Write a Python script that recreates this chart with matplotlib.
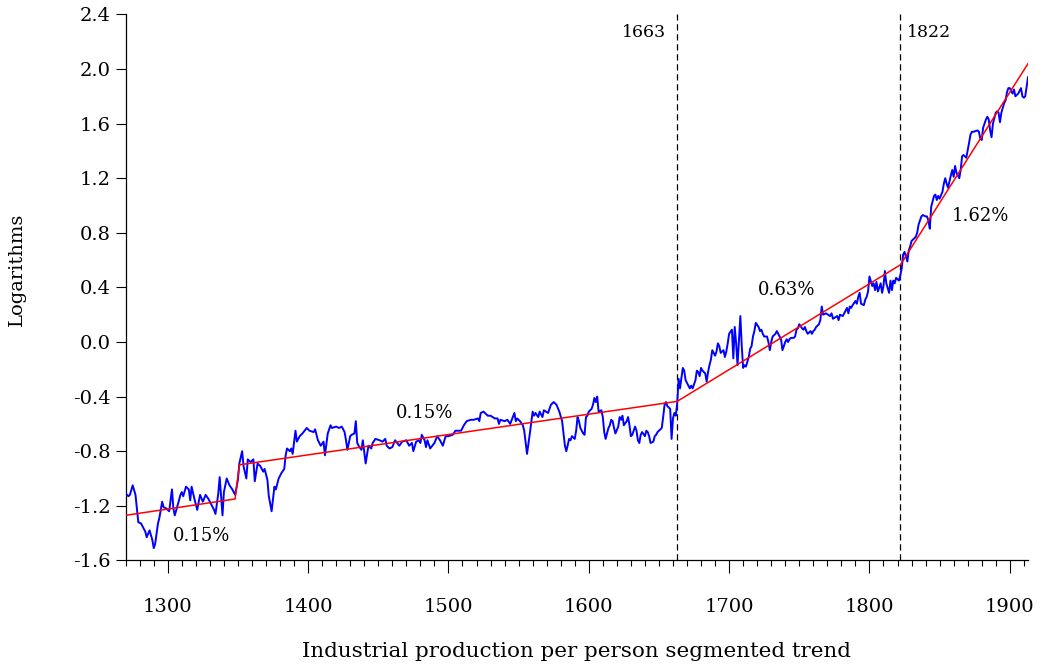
import matplotlib
matplotlib.use("Agg")
import matplotlib.pyplot as plt
import numpy as np

# ---------------------------------------------------------------------------
# Log industrial production per person, read year by year (four eras)
# ---------------------------------------------------------------------------
years_medieval = [
    1270, 1272, 1273, 1275, 1277, 1279, 1281, 1284, 1285, 1287,
    1289, 1290, 1291, 1293, 1294, 1296, 1297, 1299, 1301, 1303,
    1304, 1305, 1308, 1309, 1310, 1311, 1313, 1315, 1316, 1317,
    1319, 1321, 1323, 1325, 1327, 1329, 1331, 1333, 1334, 1336,
    1337, 1339, 1340, 1342, 1344, 1346, 1348, 1350, 1351, 1353,
    1354, 1356, 1357, 1359, 1361, 1362, 1364, 1366, 1368, 1369,
    1371, 1372, 1374, 1376, 1377, 1379, 1381, 1383, 1384, 1385,
    1387, 1388, 1389, 1391, 1392, 1394, 1396, 1399, 1401, 1404,
    1405, 1407, 1409, 1411, 1412, 1414, 1416, 1417, 1420, 1422,
    1424, 1426, 1427, 1428, 1430, 1431, 1433, 1434, 1435, 1436,
    1438, 1439, 1441, 1443, 1445, 1446, 1448, 1451, 1453, 1455,
    1456, 1458, 1460, 1462, 1465, 1467, 1470, 1472, 1474, 1475,
    1477, 1479,
]
values_medieval = [
    -1.11, -1.13, -1.12, -1.05, -1.12, -1.32, -1.33, -1.39, -1.43, -1.38,
    -1.45, -1.51, -1.48, -1.33, -1.29, -1.17, -1.21, -1.22, -1.24, -1.08,
    -1.22, -1.27, -1.16, -1.12, -1.10, -1.13, -1.06, -1.08, -1.16, -1.06,
    -1.15, -1.23, -1.12, -1.17, -1.12, -1.15, -1.19, -1.23, -1.26, -1.11,
    -0.99, -1.27, -1.10, -1.00, -1.05, -1.08, -1.12, -1.01, -0.89, -0.80,
    -0.91, -1.00, -0.86, -0.88, -0.86, -1.02, -0.89, -0.91, -0.95, -0.93,
    -1.01, -1.13, -1.24, -1.06, -1.08, -1.00, -0.96, -0.93, -0.83, -0.78,
    -0.80, -0.78, -0.82, -0.65, -0.73, -0.69, -0.67, -0.63, -0.65, -0.66,
    -0.64, -0.72, -0.76, -0.73, -0.83, -0.67, -0.61, -0.63, -0.62, -0.63,
    -0.62, -0.66, -0.72, -0.79, -0.69, -0.68, -0.67, -0.58, -0.74, -0.76,
    -0.79, -0.72, -0.89, -0.76, -0.78, -0.74, -0.71, -0.72, -0.73, -0.71,
    -0.76, -0.78, -0.77, -0.72, -0.76, -0.73, -0.72, -0.76, -0.74, -0.80,
    -0.73, -0.72,
]

years_early_modern = [
    1480, 1481, 1483, 1484, 1485, 1487, 1490, 1492, 1494, 1496,
    1498, 1500, 1503, 1505, 1509, 1511, 1513, 1516, 1518, 1521,
    1522, 1523, 1525, 1528, 1530, 1533, 1535, 1536, 1537, 1540,
    1542, 1544, 1547, 1548, 1549, 1551, 1553, 1554, 1556, 1558,
    1560, 1561, 1562, 1564, 1565, 1567, 1568, 1571, 1573, 1575,
    1577, 1579, 1581, 1583, 1584, 1586, 1587, 1588, 1590, 1591,
    1592, 1593, 1594, 1596, 1597, 1598, 1599, 1600, 1602, 1603,
    1604, 1605, 1606, 1607, 1609, 1610, 1611, 1612, 1614, 1615,
    1616, 1617, 1618, 1619, 1621, 1622, 1623, 1624, 1625, 1627,
    1628, 1629, 1630, 1631, 1633, 1634, 1635, 1636, 1637, 1638,
    1640, 1641, 1642, 1643, 1644, 1646, 1647, 1648, 1649, 1652,
    1653, 1654, 1655, 1656, 1658, 1659, 1660, 1661, 1662, 1663,
]
values_early_modern = [
    -0.74, -0.68, -0.72, -0.77, -0.72, -0.78, -0.74, -0.69, -0.72, -0.76,
    -0.69, -0.69, -0.68, -0.65, -0.65, -0.61, -0.58, -0.57, -0.57, -0.56,
    -0.58, -0.52, -0.51, -0.54, -0.54, -0.56, -0.56, -0.60, -0.57, -0.58,
    -0.57, -0.60, -0.52, -0.58, -0.56, -0.58, -0.61, -0.65, -0.82, -0.67,
    -0.51, -0.54, -0.52, -0.55, -0.51, -0.55, -0.50, -0.52, -0.46, -0.44,
    -0.46, -0.51, -0.58, -0.76, -0.80, -0.71, -0.72, -0.69, -0.71, -0.65,
    -0.55, -0.58, -0.63, -0.67, -0.68, -0.55, -0.54, -0.51, -0.49, -0.46,
    -0.41, -0.44, -0.40, -0.51, -0.50, -0.55, -0.66, -0.71, -0.63, -0.61,
    -0.57, -0.58, -0.63, -0.67, -0.62, -0.55, -0.57, -0.54, -0.61, -0.58,
    -0.55, -0.61, -0.69, -0.68, -0.62, -0.65, -0.72, -0.74, -0.68, -0.66,
    -0.69, -0.65, -0.66, -0.69, -0.74, -0.73, -0.69, -0.68, -0.66, -0.63,
    -0.55, -0.46, -0.44, -0.47, -0.49, -0.71, -0.56, -0.52, -0.54, -0.45,
]

years_pre_industrial = [
    1664, 1665, 1667, 1668, 1669, 1671, 1672, 1673, 1674, 1676,
    1677, 1678, 1679, 1680, 1681, 1683, 1684, 1685, 1686, 1687,
    1688, 1690, 1691, 1692, 1693, 1694, 1696, 1697, 1698, 1699,
    1700, 1702, 1703, 1704, 1705, 1706, 1708, 1709, 1710, 1711,
    1712, 1714, 1715, 1716, 1717, 1718, 1719, 1721, 1722, 1723,
    1724, 1725, 1727, 1728, 1729, 1730, 1731, 1733, 1734, 1735,
    1736, 1737, 1738, 1740, 1741, 1742, 1743, 1744, 1746, 1747,
    1748, 1749, 1750, 1752, 1753, 1754, 1755, 1756, 1758, 1759,
    1760, 1761, 1762, 1764, 1765,
]
values_pre_industrial = [
    -0.27, -0.34, -0.19, -0.21, -0.28, -0.32, -0.34, -0.32, -0.34, -0.28,
    -0.21, -0.22, -0.25, -0.19, -0.21, -0.23, -0.29, -0.22, -0.17, -0.13,
    -0.06, -0.10, -0.07, -0.01, -0.03, -0.08, -0.06, -0.11, -0.07, -0.01,
    0.06, 0.09, -0.12, 0.11, -0.01, -0.17, 0.19, -0.03, -0.19, -0.17,
    -0.18, -0.11, -0.05, -0.03, 0.04, 0.08, 0.14, 0.11, 0.08, 0.09,
    0.06, 0.04, 0.04, 0.00, -0.06, 0.00, 0.04, 0.06, 0.08, 0.06,
    0.04, 0.02, -0.06, 0.00, 0.02, 0.00, 0.02, 0.03, 0.03, 0.04,
    0.09, 0.10, 0.13, 0.10, 0.09, 0.11, 0.08, 0.06, 0.08, 0.06,
    0.08, 0.09, 0.11, 0.13, 0.16,
]

years_industrial = [
    1766, 1767, 1769, 1772, 1773, 1774, 1777, 1778, 1779, 1781,
    1784, 1785, 1786, 1787, 1788, 1790, 1791, 1792, 1793, 1794,
    1796, 1797, 1798, 1799, 1800, 1802, 1803, 1804, 1805, 1806,
    1808, 1809, 1810, 1811, 1812, 1814, 1815, 1816, 1817, 1818,
    1819, 1821, 1822, 1823, 1824, 1825, 1827, 1828, 1829, 1830,
    1831, 1833, 1834, 1835, 1836, 1837, 1838, 1840, 1841, 1842,
    1843, 1844, 1846, 1847, 1848, 1849, 1850, 1852, 1853, 1854,
    1855, 1856, 1858, 1859, 1860, 1861, 1862, 1864, 1865, 1866,
    1867, 1868, 1869, 1871, 1872, 1873, 1874, 1877, 1878, 1879,
    1880, 1881, 1883, 1884, 1885, 1886, 1887, 1888, 1890, 1891,
    1892, 1893, 1894, 1896, 1897, 1898, 1899, 1900, 1902, 1903,
    1904, 1905, 1906, 1908, 1909, 1910, 1911, 1912, 1913,
]
values_industrial = [
    0.26, 0.20, 0.21, 0.19, 0.21, 0.17, 0.19, 0.16, 0.20, 0.19,
    0.25, 0.21, 0.26, 0.25, 0.27, 0.30, 0.28, 0.33, 0.36, 0.28,
    0.27, 0.31, 0.33, 0.37, 0.48, 0.41, 0.43, 0.38, 0.44, 0.37,
    0.43, 0.36, 0.41, 0.52, 0.43, 0.36, 0.45, 0.38, 0.45, 0.43,
    0.47, 0.45, 0.49, 0.54, 0.64, 0.66, 0.59, 0.67, 0.70, 0.74,
    0.75, 0.77, 0.80, 0.86, 0.89, 0.92, 0.93, 0.92, 0.92, 0.89,
    0.83, 0.99, 1.07, 1.08, 1.04, 1.07, 1.05, 1.10, 1.16, 1.20,
    1.16, 1.13, 1.22, 1.26, 1.21, 1.29, 1.24, 1.20, 1.26, 1.36,
    1.37, 1.36, 1.35, 1.46, 1.52, 1.54, 1.54, 1.55, 1.54, 1.49,
    1.48, 1.57, 1.63, 1.65, 1.63, 1.55, 1.50, 1.60, 1.68, 1.69,
    1.68, 1.61, 1.68, 1.75, 1.77, 1.83, 1.86, 1.86, 1.82, 1.85,
    1.80, 1.81, 1.82, 1.86, 1.80, 1.79, 1.80, 1.87, 1.94,
]

# Segmented trend: knots of the fitted broken line
trend_years = [1270, 1348, 1351, 1663, 1822, 1913]
trend_values = [-1.27, -1.15, -0.90, -0.435, 0.565, 2.04]

# Break years marked with dashed lines
break_years = [1663, 1822]

# Growth-rate labels for each trend segment
rate_labels = ["0.15%", "0.15%", "0.63%", "1.62%"]
rate_x = [1324, 1483, 1741, 1879]
rate_y = [-1.42, -0.52, 0.38, 0.92]

x_major = [1300, 1400, 1500, 1600, 1700, 1800, 1900]
y_major = [-1.6, -1.2, -0.8, -0.4, 0.0, 0.4, 0.8, 1.2, 1.6, 2.0, 2.4]

# ---------------------------------------------------------------------------
series_years = (years_medieval + years_early_modern
                + years_pre_industrial + years_industrial)
series_values = (values_medieval + values_early_modern
                 + values_pre_industrial + values_industrial)
if len(series_years) != len(series_values):
    raise ValueError("years and values differ in length")

plt.rcParams["font.family"] = ["DejaVu Serif"]
plt.rcParams["axes.unicode_minus"] = False

fig = plt.figure(figsize=(10.42, 6.70), dpi=100)
ax = fig.add_axes([0.1206, 0.1636, 0.866, 0.8149])

ax.plot(series_years, series_values, color="#0000ff", lw=1.4, zorder=3)
ax.plot(trend_years, trend_values, color="#ff0000", lw=1.1, zorder=4)

for yr in break_years:
    ax.axvline(yr, color="black", lw=0.9, ls=(0, (5, 3)), zorder=2)

ax.text(break_years[0] - 8, 2.27, str(break_years[0]), ha="right",
        va="center", fontsize=12.5)
ax.text(break_years[1] + 5, 2.27, str(break_years[1]), ha="left",
        va="center", fontsize=12.5)

for txt, xv, yv in zip(rate_labels, rate_x, rate_y):
    ax.text(xv, yv, txt, ha="center", va="center", fontsize=13)

ax.set_xlim(1270, 1913)
ax.set_ylim(-1.6, 2.4)

ax.set_xticks(x_major)
ax.set_xticks(np.arange(1270, 1914, 10), minor=True)
ax.set_yticks(y_major)
ax.set_yticklabels([f"{v:.1f}" for v in y_major])

ax.tick_params(axis="x", which="major", direction="out", length=9,
               width=0.8, labelsize=14, pad=18)
ax.tick_params(axis="x", which="minor", direction="out", length=4.5,
               width=0.8)
ax.tick_params(axis="y", which="major", direction="out", length=7,
               width=0.8, labelsize=14, pad=4)

for side in ("top", "right"):
    ax.spines[side].set_visible(False)
for side in ("left", "bottom"):
    ax.spines[side].set_linewidth(0.9)

ax.set_xlabel("Industrial production per person segmented trend",
              fontsize=15.4)
ax.xaxis.set_label_coords(0.5, -0.149)
ax.set_ylabel("Logarithms", fontsize=14)
ax.yaxis.set_label_coords(-0.11, 0.534)

fig.savefig("out.png", dpi=100)
